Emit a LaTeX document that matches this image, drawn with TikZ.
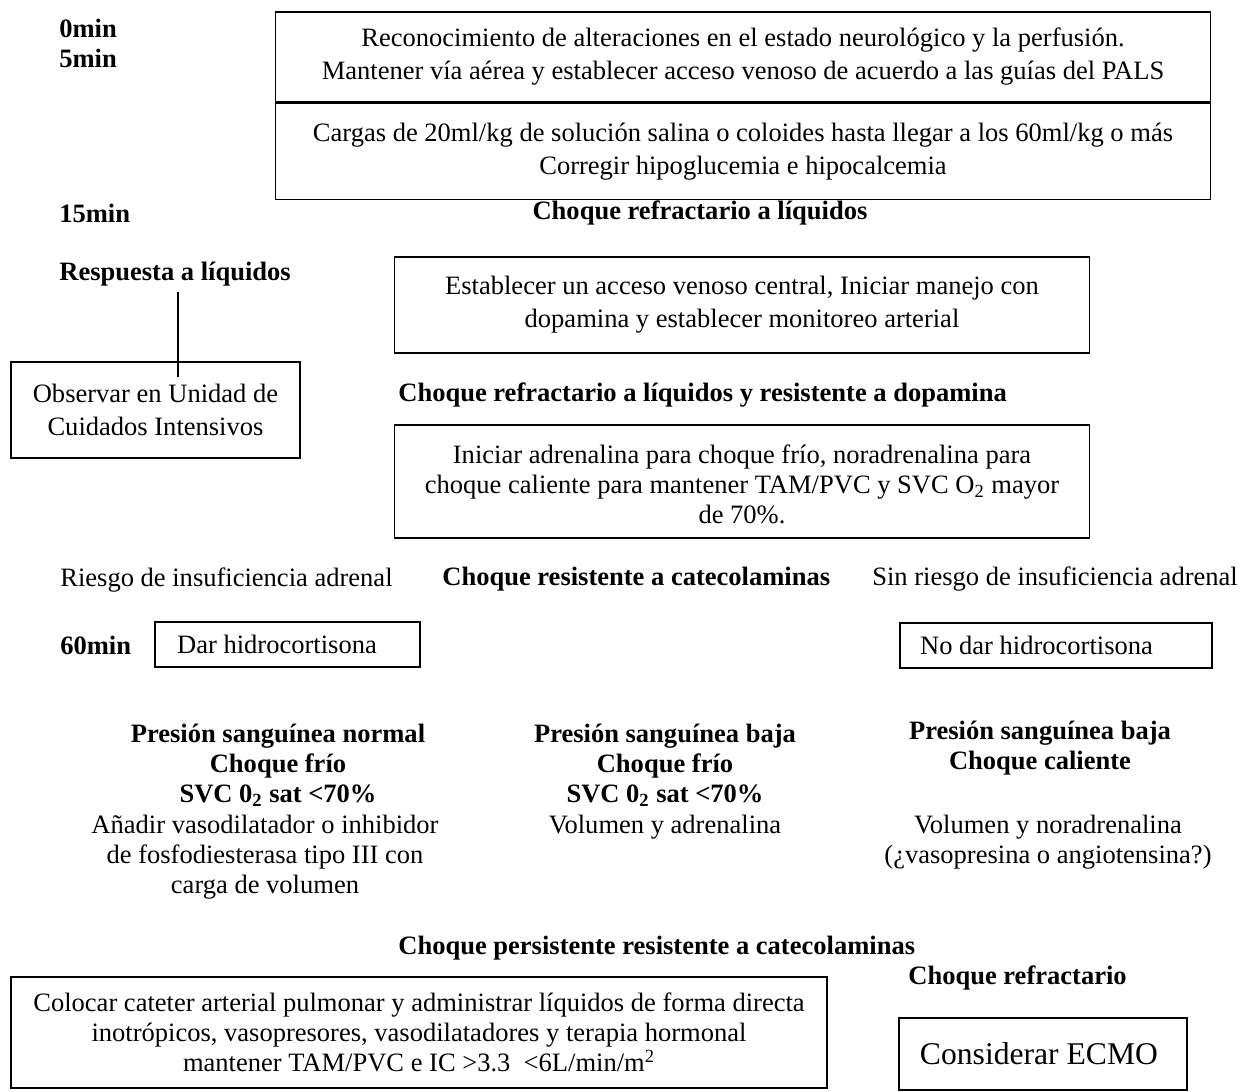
\documentclass[tikz,border=0pt]{standalone}
\usepackage{fontspec}
\setmainfont{Liberation Serif}
\usetikzlibrary{positioning}
\newlength{\pxu}\setlength{\pxu}{0.02cm}
\newcommand{\nsize}{\fontsize{15.1}{17.1}\selectfont}
\newcommand{\wsize}{\fontsize{15.1}{18.8}\selectfont}
\tikzset{
  box/.style={draw, line width=0.8pt, align=center, inner sep=0pt, font=\nsize},
  widebox/.style={box, font=\wsize},
  tag/.style={font=\nsize\bfseries, align=center, inner sep=0pt},
  txt/.style={font=\nsize, align=center, inner sep=0pt},
}

\begin{document}
\begin{tikzpicture}[x=0.02cm,y=-0.02cm]
\useasboundingbox (0,0) rectangle (1241,1092);

\node[tag,align=left,anchor=west] (tzero) at (59,43) {0min\\5min};
\node[widebox,minimum width=935\pxu,minimum height=90\pxu] (recon) at (743,57) {Reconocimiento de alteraciones en el estado neurológico y la perfusión.\\Mantener vía aérea y establecer acceso venoso de acuerdo a las guías del PALS};
\node[widebox,minimum width=935\pxu,minimum height=96\pxu,below=0pt of recon] (cargas) {Cargas de 20ml/kg de solución salina o coloides hasta llegar a los 60ml/kg o más\\Corregir hipoglucemia e hipocalcemia};

\node[tag,anchor=west] (tfifteen) at (59,213) {15min};
\node[tag] (refliq) at (700,213) {Choque refractario a líquidos};

\node[tag,anchor=west] (resp) at (59,274) {Respuesta a líquidos};
\node[widebox,minimum width=289\pxu,minimum height=96\pxu] (obs) at (155.5,410) {Observar en Unidad de\\Cuidados Intensivos};
\node[widebox,minimum width=695\pxu,minimum height=96\pxu] (central) at (742,305) {Establecer un acceso venoso central, Iniciar manejo con\\dopamina y establecer monitoreo arterial};

\node[tag,anchor=west] (refdop) at (398,395) {Choque refractario a líquidos y resistente a dopamina};
\node[box,minimum width=695\pxu,minimum height=113\pxu] (adren) at (742,481.5) {\rule{0pt}{24\pxu}Iniciar adrenalina para choque frío, noradrenalina para\\choque caliente para mantener TAM/PVC y SVC O\textsubscript{2} mayor\\de 70\%.};

\node[txt,anchor=west] (riesgo) at (60,580) {Riesgo de insuficiencia adrenal};
\node[tag,anchor=west] (rescat) at (442,579) {Choque resistente a catecolaminas};
\node[txt,anchor=west] (sinriesgo) at (872,579) {Sin riesgo de insuficiencia adrenal};

\node[tag,anchor=west] (tsixty) at (60,645) {60min};
\node[box,minimum width=265\pxu,minimum height=45\pxu] (hidro) at (287.5,644.5) {Dar hidrocortisona\hspace*{21\pxu}};
\node[box,minimum width=312\pxu,minimum height=45\pxu] (nohidro) at (1056,645.5) {No dar hidrocortisona\hspace*{39\pxu}};

\node[tag] (normalhead) at (278,765) {Presión sanguínea normal\\Choque frío\\SVC 0\textsubscript{2} sat <70\%};
\node[txt] (normaltx) at (265,857) {Añadir vasodilatador o inhibidor\\de fosfodiesterasa tipo III con\\carga de volumen};
\node[tag] (frihead) at (665,765) {Presión sanguínea baja\\Choque frío\\SVC 0\textsubscript{2} sat <70\%};
\node[txt] (fritx) at (665,827) {Volumen y adrenalina};
\node[tag] (calhead) at (1040,748) {Presión sanguínea baja\\Choque caliente};
\node[txt] (caltx) at (1048,842) {Volumen y noradrenalina\\(¿vasopresina o angiotensina?)};

\node[tag,anchor=west] (persist) at (398,948) {Choque persistente resistente a catecolaminas};
\node[tag,anchor=west] (refrac) at (908,978) {Choque refractario};
\node[box,minimum width=816\pxu,minimum height=111\pxu] (cateter) at (419,1032.5) {Colocar cateter arterial pulmonar y administrar líquidos de forma directa\\inotrópicos, vasopresores, vasodilatadores y terapia hormonal\\mantener TAM/PVC e IC >3.3 \ <6L/min/m\textsuperscript{2}};
\node[box,font=\fontsize{18}{20}\selectfont,minimum width=288\pxu,minimum height=72\pxu] (ecmo) at (1043,1054) {Considerar ECMO\hspace*{8\pxu}};

\coordinate (tick) at (178,377);
\draw[line width=0.8pt] ([yshift=-6\pxu]resp.south -| tick) -- (tick);
\end{tikzpicture}
\end{document}
